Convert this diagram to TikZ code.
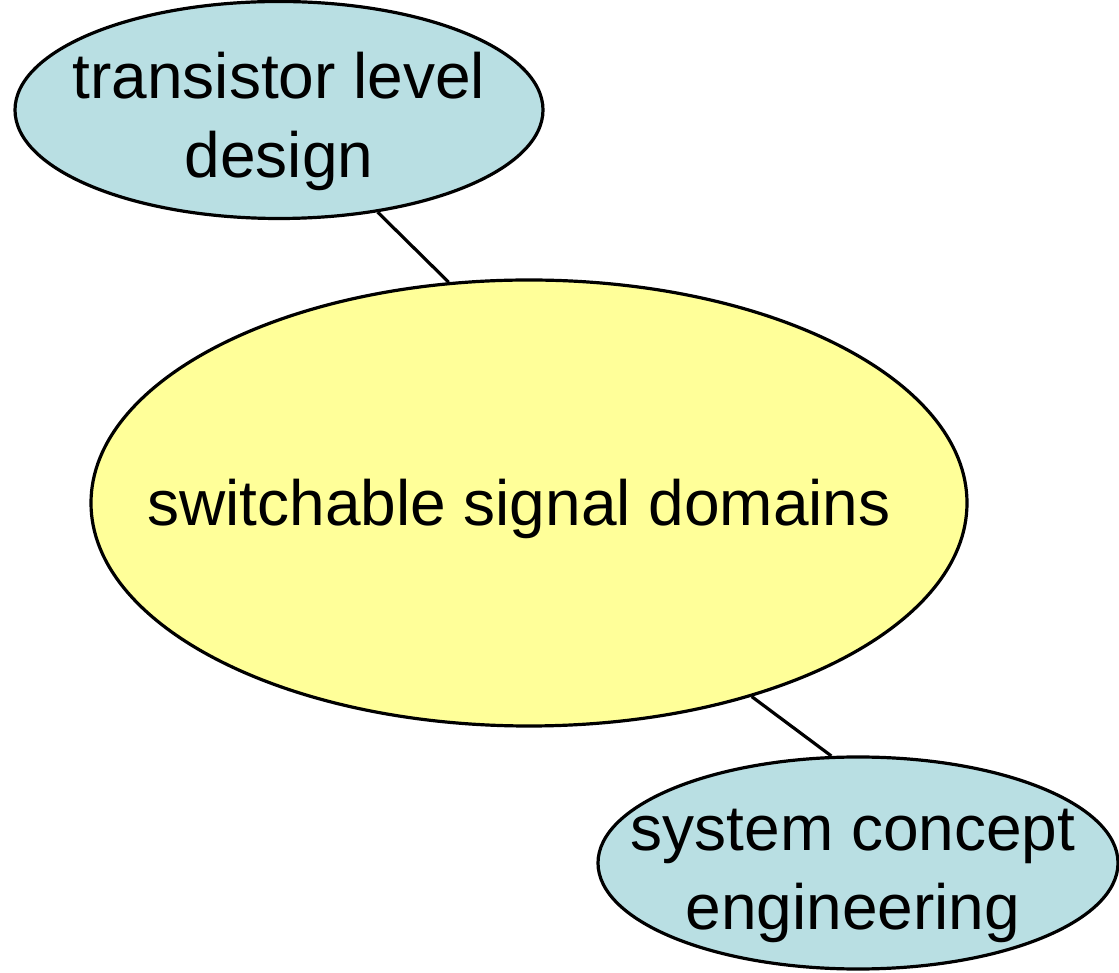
\documentclass[tikz,border=0pt]{standalone}
\usepackage{fontspec}
\setmainfont{Liberation Sans}
\usetikzlibrary{shapes.geometric}
\definecolor{blobblue}{RGB}{185,223,227}
\definecolor{blobyellow}{RGB}{255,255,153}
\tikzset{
  blob/.style={ellipse, draw=black, line width=3.2pt, inner sep=0pt},
  lbl/.style={align=center, inner sep=0pt, font=\fontsize{64}{79}\selectfont},
  conn/.style={draw=black, line width=3.2pt}
}
\begin{document}
\begin{tikzpicture}[x=1pt,y=1pt]
\useasboundingbox (0,0) rectangle (1119,972);
\node[blob, fill=blobblue, minimum width=528pt, minimum height=217pt] (top) at (279,862) {};
\node[blob, fill=blobyellow, minimum width=876pt, minimum height=446pt] (mid) at (529,469) {};
\node[blob, fill=blobblue, minimum width=520pt, minimum height=212pt] (bot) at (858,109) {};
\node[lbl] (toplbl) at (279,851) {transistor level\\design};
\node[lbl] (midlbl) at (519,463) {switchable signal domains};
\node[lbl] (botlbl) at (853,96) {system concept\\engineering};
\draw[conn] (top.-46.4) -- (mid.110);
\draw[conn] (mid.-41.4) -- (bot.104.3);
\end{tikzpicture}
\end{document}
